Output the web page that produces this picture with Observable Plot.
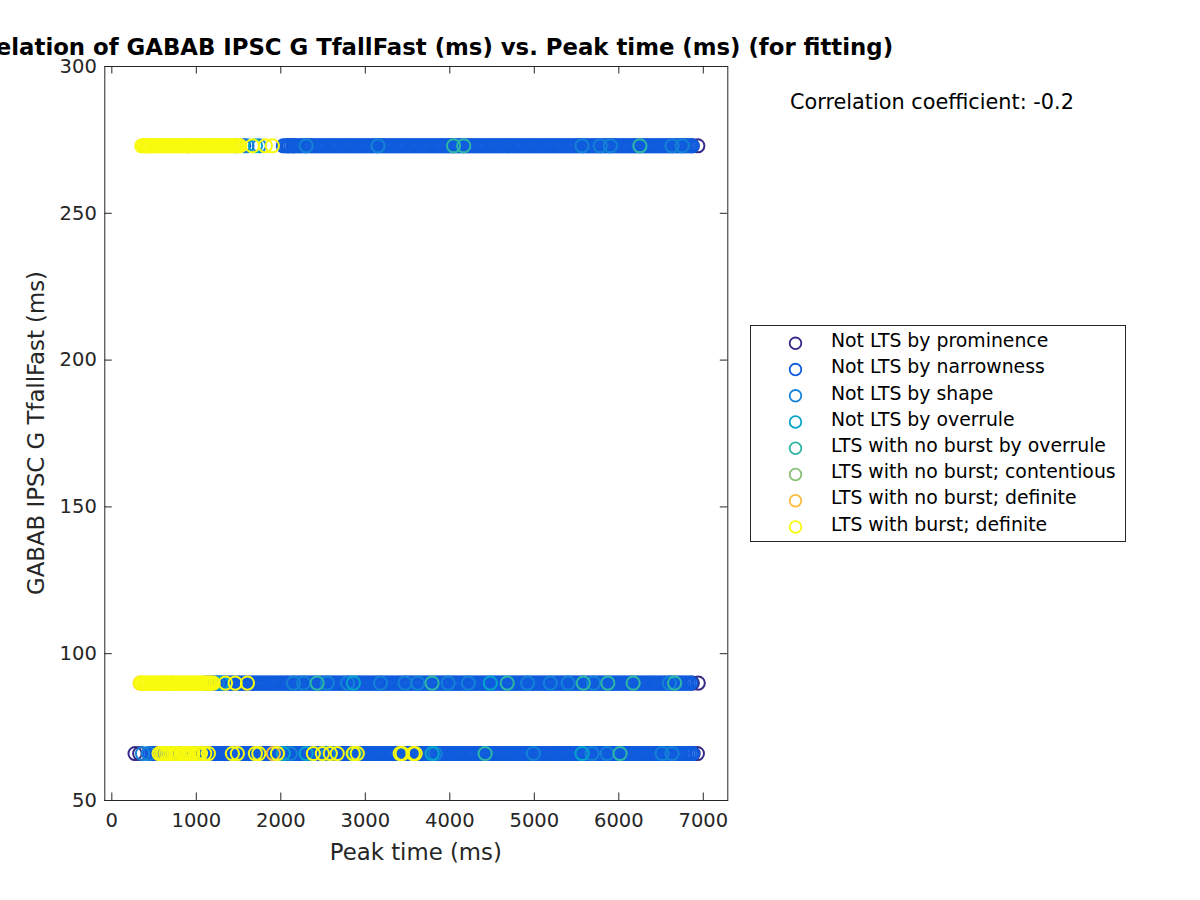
<!DOCTYPE html>
<html><head><meta charset="utf-8">
<script src="https://cdn.jsdelivr.net/npm/d3@7"></script>
<script src="https://cdn.jsdelivr.net/npm/@observablehq/plot@0.6"></script>
<style>
body{margin:0;background:#fff;}
#wrap{position:relative;width:1200px;height:900px;font-family:"DejaVu Sans",sans-serif;color:#262626;overflow:hidden;background:#fff}
#wrap svg{position:absolute;left:0;top:0;display:block}
.t{position:absolute;white-space:nowrap;line-height:1}
</style></head><body><div id="wrap"></div>
<script>
// ---- categories & colours ----
const categories = ["Not LTS by prominence", "Not LTS by narrowness", "Not LTS by shape", "Not LTS by overrule",
  "LTS with no burst by overrule", "LTS with no burst; contentious", "LTS with no burst; definite", "LTS with burst; definite"];
const colors = ["#352a87", "#0f5cdd", "#1481d6", "#06a4ca", "#2eb7a4", "#87bf77", "#fbbc3c", "#f9fb0e"];
const tfallLevels = [273, 90, 66];
const xTicks = [0, 1000, 2000, 3000, 4000, 5000, 6000, 7000];
const yTicks = [50, 100, 150, 200, 250, 300];

// ---- peak times (ms) per category, per TfallFast level ----
const prominence273 = [2090, 2150, 6870, 6935];
const prominence90 = [6870, 6940];
const prominence66 = [275, 330, 6880, 6930];

const narrowness273 = [1470, 1560,
2030, 2052, 2075, 2096, 2118, 2141, 2162, 2184, 2207, 2228,
2250, 2273, 2294, 2316, 2339, 2360, 2382, 2405, 2426, 2448,
2471, 2492, 2514, 2537, 2558, 2580, 2603, 2624, 2646, 2669,
2690, 2712, 2735, 2756, 2778, 2801, 2822, 2844, 2867, 2888,
2910, 2933, 2954, 2976, 2999, 3020, 3042, 3065, 3086, 3108,
3131, 3152, 3174, 3197, 3218, 3240, 3263, 3284, 3306, 3329,
3350, 3372, 3395, 3416, 3438, 3461, 3482, 3504, 3527, 3548,
3570, 3593, 3614, 3636, 3659, 3680, 3702, 3725, 3746, 3768,
3791, 3812, 3834, 3857, 3878, 3900, 3923, 3944, 3966, 3989,
4010, 4032, 4055, 4076, 4098, 4121, 4142, 4164, 4187, 4208,
4230, 4253, 4274, 4296, 4319, 4340, 4362, 4385, 4406, 4428,
4451, 4472, 4494, 4517, 4538, 4560, 4583, 4604, 4626, 4649,
4670, 4692, 4715, 4736, 4758, 4781, 4802, 4824, 4847, 4868,
4890, 4913, 4934, 4956, 4979, 5000, 5022, 5045, 5066, 5088,
5111, 5132, 5154, 5177, 5198, 5220, 5243, 5264, 5286, 5309,
5330, 5352, 5375, 5396, 5418, 5441, 5462, 5484, 5507, 5528,
5550, 5573, 5594, 5616, 5639, 5660, 5682, 5705, 5726, 5748,
5771, 5792, 5814, 5837, 5858, 5880, 5903, 5924, 5946, 5969,
5990, 6012, 6035, 6056, 6078, 6101, 6122, 6144, 6167, 6188,
6210, 6233, 6254, 6276, 6299, 6320, 6342, 6365, 6386, 6408,
6431, 6452, 6474, 6497, 6518, 6540, 6563, 6584, 6606, 6629,
6650, 6672, 6695, 6716, 6738, 6761, 6782, 6804, 6827, 6848, 6866];
const narrowness90 = [
1110, 1133, 1154, 1176, 1199, 1220, 1242, 1265, 1286, 1308,
1331, 1352, 1374, 1397, 1418, 1440, 1463, 1484, 1506, 1529,
1550, 1572, 1595, 1616, 1638, 1661, 1682, 1704, 1727, 1748,
1770, 1793, 1814, 1836, 1859, 1880, 1902, 1925, 1946, 1968,
1991, 2012, 2034, 2057, 2078, 2100, 2123, 2144, 2166, 2189,
2210, 2232, 2255, 2276, 2298, 2321, 2342, 2364, 2387, 2408,
2430, 2453, 2474, 2496, 2519, 2540, 2562, 2585, 2606, 2628,
2651, 2672, 2694, 2717, 2738, 2760, 2783, 2804, 2826, 2849,
2870, 2892, 2915, 2936, 2958, 2981, 3002, 3024, 3047, 3068,
3090, 3113, 3134, 3156, 3179, 3200, 3222, 3245, 3266, 3288,
3311, 3332, 3354, 3377, 3398, 3420, 3443, 3464, 3486, 3509,
3530, 3552, 3575, 3596, 3618, 3641, 3662, 3684, 3707, 3728,
3750, 3773, 3794, 3816, 3839, 3860, 3882, 3905, 3926, 3948,
3971, 3992, 4014, 4037, 4058, 4080, 4103, 4124, 4146, 4169,
4190, 4212, 4235, 4256, 4278, 4301, 4322, 4344, 4367, 4388,
4410, 4433, 4454, 4476, 4499, 4520, 4542, 4565, 4586, 4608,
4631, 4652, 4674, 4697, 4718, 4740, 4763, 4784, 4806, 4829,
4850, 4872, 4895, 4916, 4938, 4961, 4982, 5004, 5027, 5048,
5070, 5093, 5114, 5136, 5159, 5180, 5202, 5225, 5246, 5268,
5291, 5312, 5334, 5357, 5378, 5400, 5423, 5444, 5466, 5489,
5510, 5532, 5555, 5576, 5598, 5621, 5642, 5664, 5687, 5708,
5730, 5753, 5774, 5796, 5819, 5840, 5862, 5885, 5906, 5928,
5951, 5972, 5994, 6017, 6038, 6060, 6083, 6104, 6126, 6149,
6170, 6192, 6215, 6236, 6258, 6281, 6302, 6324, 6347, 6368,
6390, 6413, 6434, 6456, 6479, 6500, 6522, 6545, 6566, 6588,
6611, 6632, 6654, 6677, 6698, 6720, 6743, 6764, 6786, 6809, 6830, 6852];
const narrowness66 = [
450, 472, 495, 516, 538, 561, 582, 604, 627, 648,
670, 693, 714, 736, 759, 780, 802, 825, 846, 868,
891, 912, 934, 957, 978, 1000, 1023, 1044, 1066, 1089,
1110, 1132, 1155, 1176, 1198, 1221, 1242, 1264, 1287, 1308,
1330, 1353, 1374, 1396, 1419, 1440, 1462, 1485, 1506, 1528,
1551, 1572, 1594, 1617, 1638, 1660, 1683, 1704, 1726, 1749,
1770, 1792, 1815, 1836, 1858, 1881, 1902, 1924, 1947, 1968,
1990, 2013, 2034, 2056, 2079, 2100, 2122, 2145, 2166, 2188,
2211, 2232, 2254, 2277, 2298, 2320, 2343, 2364, 2386, 2409,
2430, 2452, 2475, 2496, 2518, 2541, 2562, 2584, 2607, 2628,
2650, 2673, 2694, 2716, 2739, 2760, 2782, 2805, 2826, 2848,
2871, 2892, 2914, 2937, 2958, 2980, 3003, 3024, 3046, 3069,
3090, 3112, 3135, 3156, 3178, 3201, 3222, 3244, 3267, 3288,
3310, 3333, 3354, 3376, 3399, 3420, 3442, 3465, 3486, 3508,
3531, 3552, 3574, 3597, 3618, 3640, 3663, 3684, 3706, 3729,
3750, 3772, 3795, 3816, 3838, 3861, 3882, 3904, 3927, 3948,
3970, 3993, 4014, 4036, 4059, 4080, 4102, 4125, 4146, 4168,
4191, 4212, 4234, 4257, 4278, 4300, 4323, 4344, 4366, 4389,
4410, 4432, 4455, 4476, 4498, 4521, 4542, 4564, 4587, 4608,
4630, 4653, 4674, 4696, 4719, 4740, 4762, 4785, 4806, 4828,
4851, 4872, 4894, 4917, 4938, 4960, 4983, 5004, 5026, 5049,
5070, 5092, 5115, 5136, 5158, 5181, 5202, 5224, 5247, 5268,
5290, 5313, 5334, 5356, 5379, 5400, 5422, 5445, 5466, 5488,
5511, 5532, 5554, 5577, 5598, 5620, 5643, 5664, 5686, 5709,
5730, 5752, 5775, 5796, 5818, 5841, 5862, 5884, 5907, 5928,
5950, 5973, 5994, 6016, 6039, 6060, 6082, 6105, 6126, 6148,
6171, 6192, 6214, 6237, 6258, 6280, 6303, 6324, 6346, 6369,
6390, 6412, 6435, 6456, 6478, 6501, 6522, 6544, 6567, 6588,
6610, 6633, 6654, 6676, 6699, 6720, 6742, 6765, 6786, 6808, 6831, 6852, 6872];

const shape273 = [1600, 1745, 2300, 3150, 5565, 5780, 5900, 6630, 6750];
const shape90 = [1250, 2150, 2270, 2550, 2790, 3180, 3470, 3620, 3980, 4220, 4920, 5190, 5400, 5700, 6600];
const shape66 = [363, 434, 2113, 2560, 3826, 4990, 5684, 5861, 6512, 6630];

const overrule273 = [1700];
const overrule90 = [1300, 2860, 4480];
const overrule66 = [2030, 2300, 3791, 5565];

const ltsOverrule273 = [4045, 4165, 6250];
const ltsOverrule90 = [2430, 3790, 4680, 5580, 5870, 6170, 6660];
const ltsOverrule66 = [2870, 4418, 6015];

const contentious273 = [900];
const contentious90 = [700];
const contentious66 = [];

const noBurstDefinite273 = [420];
const noBurstDefinite90 = [335, 600];
const noBurstDefinite66 = [900, 1912];

const burstDefinite273 = [355, 374, 395, 414, 435, 454, 475, 494, 515, 534,
555, 574, 595, 614, 635, 654, 675, 694, 715, 734,
755, 774, 795, 814, 835, 854, 875, 894, 915, 934,
955, 974, 995, 1014, 1035, 1054, 1075, 1094, 1115, 1134,
1155, 1174, 1195, 1214, 1235, 1254, 1275, 1294, 1315, 1334,
1355, 1374, 1395, 1414, 1435, 1454, 1475, 1494, 1515, 1664, 1817, 1900];
const burstDefinite90 = [340, 359, 380, 399, 420, 439, 460, 479, 500, 519,
540, 559, 580, 599, 620, 639, 660, 679, 700, 719,
740, 759, 780, 799, 820, 839, 860, 879, 900, 919,
940, 959, 980, 999, 1020, 1039, 1060, 1079, 1100, 1119,
1140, 1159, 1180, 1200, 1345, 1460, 1605];
const burstDefinite66 = [560, 585, 610, 640, 665, 690, 735, 760, 780, 830, 850, 870, 915, 940, 960, 1010, 1030, 1050, 1100,
1143, 1427, 1486, 1699, 1740, 1960, 2385, 2492, 2586, 2668, 2857, 2905, 3413, 3437, 3567, 3590];

const seriesByCategory = [
  [prominence273, prominence90, prominence66],
  [narrowness273, narrowness90, narrowness66],
  [shape273, shape90, shape66],
  [overrule273, overrule90, overrule66],
  [ltsOverrule273, ltsOverrule90, ltsOverrule66],
  [contentious273, contentious90, contentious66],
  [noBurstDefinite273, noBurstDefinite90, noBurstDefinite66],
  [burstDefinite273, burstDefinite90, burstDefinite66]
];

const points = [];
seriesByCategory.forEach((rows, ci) => {
  rows.forEach((arr, li) => {
    arr.forEach(p => points.push({peak: p, tfall: tfallLevels[li], category: categories[ci]}));
  });
});

const axisColor = "#262626";
const chart = Plot.plot({
  width: 1200, height: 900,
  marginLeft: 104.3, marginRight: 472.7, marginTop: 66, marginBottom: 100,
  x: {domain: [-83, 7290]},
  y: {domain: [50, 300]},
  color: {domain: categories, range: colors},
  style: {fontFamily: "DejaVu Sans", fontSize: "19.5px", color: axisColor, background: "white"},
  marks: [
    Plot.dot(points, {x: "peak", y: "tfall", stroke: "category", r: 6.6, strokeWidth: 2, fill: "none"}),
    Plot.frame({stroke: axisColor, strokeWidth: 1}),
    Plot.tickX(xTicks, {x: d => d, insetTop: 726.5, stroke: axisColor}),
    Plot.tickX(xTicks, {x: d => d, insetBottom: 726.5, stroke: axisColor}),
    Plot.tickY(yTicks, {y: d => d, insetRight: 615.5, stroke: axisColor}),
    Plot.tickY(yTicks, {y: d => d, insetLeft: 615.5, stroke: axisColor}),
    Plot.axisX({ticks: xTicks, tickSize: 0, tickPadding: 13, label: null, tickFormat: "d"}),
    Plot.axisY({ticks: yTicks, tickSize: 0, tickPadding: 8, label: null, tickFormat: "d"})
  ]
});
const wrap = document.getElementById("wrap");
wrap.appendChild(chart);

function addText(txt, x, baseline, fs, opts = {}) {
  const d = document.createElement("div");
  d.className = "t";
  d.textContent = txt;
  d.style.fontSize = fs + "px";
  d.style.top = (baseline - 0.846 * fs) + "px";
  d.style.left = x + "px";
  if (opts.bold) d.style.fontWeight = "bold";
  if (opts.color) d.style.color = opts.color;
  if (opts.anchor === "middle") d.style.transform = "translateX(-50%)";
  wrap.appendChild(d);
  return d;
}

// title
addText("Correlation of GABAB IPSC G TfallFast (ms) vs. Peak time (ms) (for fitting)", 417, 55, 22.8, {bold: true, anchor: "middle", color: "#000"});
// axis labels
addText("Peak time (ms)", 415.8, 860, 22.8, {anchor: "middle"});
{
  const d = document.createElement("div");
  d.className = "t";
  d.textContent = "GABAB IPSC G TfallFast (ms)";
  d.style.fontSize = "22.8px";
  d.style.left = "36px";
  d.style.top = "433px";
  d.style.transform = "translate(-50%,-50%) rotate(-90deg)";
  wrap.appendChild(d);
}
// correlation annotation
addText("Correlation coefficient: -0.2", 790, 110, 20.8, {color: "#000"});

// legend
{
  const box = document.createElement("div");
  box.style.cssText = "position:absolute;left:750px;top:325px;width:376px;height:217px;border:1px solid #262626;box-sizing:border-box;background:#fff";
  wrap.appendChild(box);
  const ns = "http://www.w3.org/2000/svg";
  const svg = document.createElementNS(ns, "svg");
  svg.setAttribute("width", 1200); svg.setAttribute("height", 900);
  svg.style.cssText = "position:absolute;left:0;top:0;pointer-events:none";
  categories.forEach((c, i) => {
    const circ = document.createElementNS(ns, "circle");
    circ.setAttribute("cx", 795.5);
    circ.setAttribute("cy", 343.3 + i * 26.24);
    circ.setAttribute("r", 5.8);
    circ.setAttribute("fill", "none");
    circ.setAttribute("stroke", colors[i]);
    circ.setAttribute("stroke-width", 1.8);
    svg.appendChild(circ);
    addText(c, 831, 348 + i * 26.24, 18.85, {color: "#000"});
  });
  wrap.appendChild(svg);
}
</script></body></html>
